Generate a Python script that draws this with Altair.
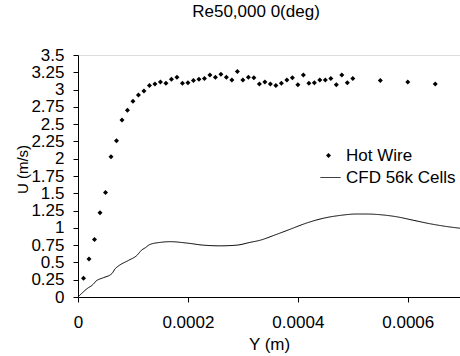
import altair as alt
import pandas as pd

# ---- data ----
hw_name = ["Hot Wire"]
cfd_name = ["CFD 56k Cells"]

hw_y_m = [0.00001, 0.00002, 0.00003, 0.00004, 0.00005, 0.00006, 0.00007, 0.00008, 0.00009, 0.00010,
          0.00011, 0.00012, 0.00013, 0.00014, 0.00015, 0.00016, 0.00017, 0.00018, 0.00019, 0.00020,
          0.00021, 0.00022, 0.00023, 0.00024, 0.00025, 0.00026, 0.00027, 0.00028, 0.00029, 0.00030,
          0.00031, 0.00032, 0.00033, 0.00034, 0.00035, 0.00036, 0.00037, 0.00038, 0.00039, 0.00040,
          0.00041, 0.00042, 0.00043, 0.00044, 0.00045, 0.00046, 0.00047, 0.00048, 0.00049, 0.00050,
          0.00055, 0.00060, 0.00065]
hw_u = [0.27, 0.55, 0.83, 1.22, 1.51, 2.03, 2.26, 2.56, 2.70, 2.83,
        2.92, 2.98, 3.06, 3.08, 3.11, 3.09, 3.15, 3.18, 3.09, 3.10,
        3.13, 3.15, 3.16, 3.21, 3.18, 3.22, 3.18, 3.14, 3.26, 3.14,
        3.18, 3.17, 3.08, 3.11, 3.08, 3.06, 3.09, 3.14, 3.17, 3.07,
        3.21, 3.09, 3.10, 3.14, 3.14, 3.16, 3.07, 3.21, 3.10, 3.16,
        3.13, 3.11, 3.08]

cfd_y_m = [0.0, 0.0000164, 0.0000284, 0.0000315, 0.0000465, 0.0000587, 0.0000618, 0.0000678,
           0.0000738, 0.000092, 0.000107, 0.000116, 0.000122, 0.000131, 0.000150, 0.000168,
           0.000198, 0.000228, 0.000259, 0.000289, 0.000313, 0.000331, 0.000356, 0.000386,
           0.000416, 0.000447, 0.000477, 0.000507, 0.000525, 0.000550, 0.000580, 0.000610,
           0.000640, 0.000670, 0.000700]
cfd_u = [0.0, 0.12, 0.19, 0.22, 0.28, 0.32, 0.34, 0.41,
         0.45, 0.53, 0.60, 0.68, 0.71, 0.76, 0.79, 0.80,
         0.78, 0.75, 0.74, 0.75, 0.79, 0.82, 0.89, 0.98,
         1.07, 1.14, 1.18, 1.20, 1.20, 1.19, 1.16, 1.11,
         1.06, 1.02, 0.99]

x_ticks = [0, 0.0002, 0.0004, 0.0006]
y_ticks = [0, 0.25, 0.5, 0.75, 1, 1.25, 1.5, 1.75, 2, 2.25, 2.5, 2.75, 3, 3.25, 3.5]

hw = pd.DataFrame({"Y": hw_y_m, "U": hw_u, "hw_series": hw_name[0]})
cfd = pd.DataFrame({"Y": cfd_y_m, "U": cfd_u, "cfd_series": cfd_name[0]})

FONT = "Liberation Sans"
FS = 17

x_enc = alt.X(
    "Y:Q",
    scale=alt.Scale(domain=[0, 0.000695], nice=False, zero=False),
    axis=alt.Axis(values=x_ticks, labelExpr="'' + datum.value", title="Y (m)", grid=False,
                  domainColor="black", tickColor="black", tickSize=5,
                  labelColor="black", labelFontSize=FS, labelPadding=12,
                  labelFont=FONT, titleFont=FONT, titleFontSize=FS,
                  titleFontWeight="normal", titleColor="black",
                  titleBaseline="alphabetic", titleY=52, labelFlush=False),
)
y_enc = alt.Y(
    "U:Q",
    scale=alt.Scale(domain=[0, 3.5], nice=False),
    axis=alt.Axis(values=y_ticks, labelExpr="'' + datum.value", title="U (m/s)", grid=False,
                  domainColor="black", tickColor="black", tickSize=5,
                  labelColor="black", labelFontSize=FS, labelPadding=9,
                  labelFont=FONT, titleFont=FONT, titleFontSize=15,
                  titleFontWeight="normal", titleColor="black",
                  titleBaseline="alphabetic", titleX=-51, titleY=114,
                  labelFlush=False, labelOverlap=False),
)

hw_legend = alt.Legend(title=None, orient="none", legendX=242, legendY=92,
                       labelFont=FONT, labelFontSize=FS, labelColor="black",
                       labelOffset=9, padding=0, symbolSize=25,
                       symbolFillColor="black", symbolStrokeWidth=0, symbolOpacity=1)
cfd_legend = alt.Legend(title=None, orient="none", legendX=242, legendY=112,
                        labelFont=FONT, labelFontSize=FS, labelColor="black",
                        labelOffset=5, padding=0, symbolSize=400, symbolType="stroke",
                        symbolStrokeColor="black", symbolStrokeWidth=1, symbolOpacity=1)

points = alt.Chart(hw).mark_point(filled=True, color="black", size=25, opacity=1).encode(
    x=x_enc,
    y=y_enc,
    shape=alt.Shape("hw_series:N", scale=alt.Scale(domain=hw_name, range=["diamond"]),
                    legend=hw_legend),
)

line = alt.Chart(cfd).mark_line(color="black", strokeWidth=1, clip=True,
                                interpolate="monotone").encode(
    x=x_enc,
    y=y_enc,
    strokeDash=alt.StrokeDash("cfd_series:N", scale=alt.Scale(domain=cfd_name, range=[[1, 0]]),
                              legend=cfd_legend),
)

chart = alt.layer(line, points).properties(
    width=382,
    height=242,
    padding={"left": 78, "top": 55, "right": 0, "bottom": 59},
    autosize=alt.AutoSizeParams(type="none"),
    title=alt.TitleParams("Re50,000 0(deg)", font=FONT, fontSize=FS, fontWeight="normal",
                          color="black", anchor="middle", frame="group", dx=-13,
                          baseline="alphabetic", offset=12),
).configure_view(stroke="black", strokeWidth=1).configure(background="white")

chart.save("out.html", embed_options={"renderer": "svg", "actions": False})
